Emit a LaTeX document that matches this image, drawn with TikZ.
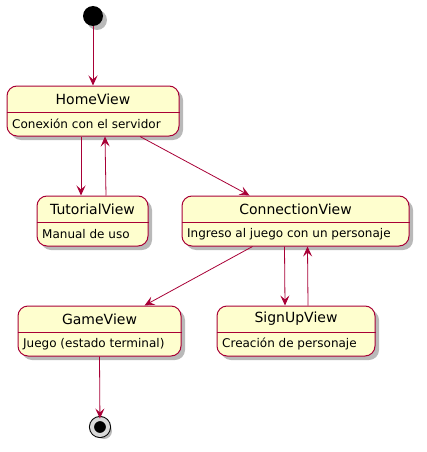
\documentclass[tikz,border=0pt]{standalone}
\usepackage{fontspec}
\setmainfont{DejaVu Sans}
\usetikzlibrary{arrows.meta,shadows}

\definecolor{umlred}{HTML}{A80036}
\definecolor{umlfill}{HTML}{FEFECE}

\begin{document}
\begin{tikzpicture}[x=1pt, y=-1pt,
    state/.style={rectangle, rounded corners=10pt, draw=umlred, fill=umlfill, line width=1pt, minimum height=50pt, inner sep=0pt,
      drop shadow={shadow xshift=4pt, shadow yshift=-4pt, fill=black!55, opacity=0.5}},
    statetitle/.style={font=\fontsize{14}{16}\selectfont, inner sep=0pt},
    statebody/.style={font=\fontsize{12}{14}\selectfont, inner sep=0pt, anchor=west},
    divider/.style={draw=umlred, line width=1pt},
    initial/.style={circle, fill=black, minimum size=20pt, inner sep=0pt,
      drop shadow={shadow xshift=4pt, shadow yshift=-4pt, fill=black!55, opacity=0.5}},
    final/.style={circle, draw=black, fill=black, line width=1pt, double=black!15, double distance=4pt, minimum size=16pt, inner sep=0pt,
      drop shadow={shadow xshift=4pt, shadow yshift=-4pt, fill=black!55, opacity=0.5}},
    arrow/.style={draw=umlred, line width=0.8pt, -{Stealth[length=10pt, width=9pt, inset=4pt]}}]

    \useasboundingbox (0,0) rectangle (427,452);

    \node (start) [initial] at (93,16) {};

    \node (home) [state, minimum width=172pt] at (93,111) {};
    \node (hometitle) [statetitle] at ([yshift=-13.5pt]home.north) {HomeView};
    \draw [divider] ([yshift=-27pt]home.north west) -- ([yshift=-27pt]home.north east);
    \node (homebody) [statebody] at ([xshift=5.5pt, yshift=-38.5pt]home.north west) {Conexión con el servidor};

    \node (tutorial) [state, minimum width=111pt] at (92.5,221) {};
    \node (tutorialtitle) [statetitle] at ([yshift=-13.5pt]tutorial.north) {TutorialView};
    \draw [divider] ([yshift=-27pt]tutorial.north west) -- ([yshift=-27pt]tutorial.north east);
    \node (tutorialbody) [statebody] at ([xshift=5.5pt, yshift=-38.5pt]tutorial.north west) {Manual de uso};

    \node (connection) [state, minimum width=227pt] at (295.5,221) {};
    \node (connectiontitle) [statetitle] at ([yshift=-13.5pt]connection.north) {ConnectionView};
    \draw [divider] ([yshift=-27pt]connection.north west) -- ([yshift=-27pt]connection.north east);
    \node (connectionbody) [statebody] at ([xshift=5.5pt, yshift=-38.5pt]connection.north west) {Ingreso al juego con un personaje};

    \node (game) [state, minimum width=163pt] at (99.5,331) {};
    \node (gametitle) [statetitle] at ([yshift=-13.5pt]game.north) {GameView};
    \draw [divider] ([yshift=-27pt]game.north west) -- ([yshift=-27pt]game.north east);
    \node (gamebody) [statebody] at ([xshift=5.5pt, yshift=-38.5pt]game.north west) {Juego (estado terminal)};

    \node (signup) [state, minimum width=158pt] at (296,331) {};
    \node (signuptitle) [statetitle] at ([yshift=-13.5pt]signup.north) {SignUpView};
    \draw [divider] ([yshift=-27pt]signup.north west) -- ([yshift=-27pt]signup.north east);
    \node (signupbody) [statebody] at ([xshift=5.5pt, yshift=-38.5pt]signup.north west) {Creación de personaje};

    \node (end) [final] at (100,427) {};

    \draw [arrow] (start) -- (home.north);
    \draw [arrow] ([xshift=-12pt]home.south) -- ([xshift=-11.5pt]tutorial.north);
    \draw [arrow] ([xshift=13.5pt]tutorial.north) -- ([xshift=12pt]home.south);
    \draw [arrow] ([xshift=47pt]home.south) -- ([xshift=-46pt]connection.north);
    \draw [arrow] ([xshift=-43pt]connection.south) -- ([xshift=45pt]game.north);
    \draw [arrow] ([xshift=-11pt]connection.south) -- ([xshift=-11pt]signup.north);
    \draw [arrow] ([xshift=12pt]signup.north) -- ([xshift=12pt]connection.south);
    \draw [arrow] (game.south) -- (end);

  \end{tikzpicture}
\end{document}
